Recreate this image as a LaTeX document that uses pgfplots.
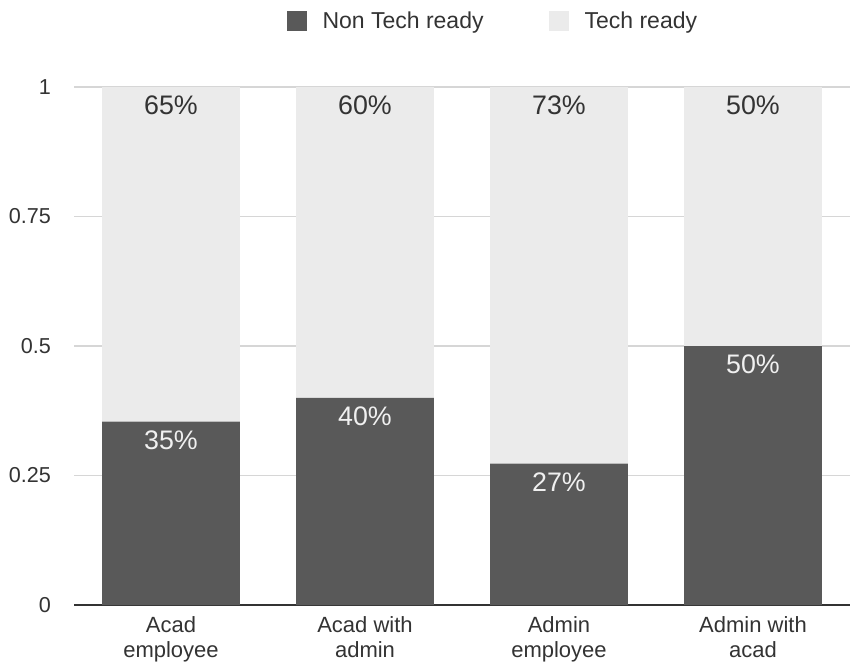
\documentclass[border=0pt]{standalone}
\usepackage{pgfplots}
\pgfplotsset{compat=1.18}
\usepackage{fontspec}
\setmainfont{Liberation Sans}
\usetikzlibrary{calc}
\definecolor{darkbar}{HTML}{595959}
\definecolor{lightbar}{HTML}{EBEBEB}
\definecolor{gridc}{HTML}{D6D6D6}
\definecolor{txt}{HTML}{333333}
\pgfplotsset{sqlegend/.style={legend image code/.code={\fill[##1] (0pt,-5pt) rectangle (10pt,5pt);}}}

\begin{document}
\begin{tikzpicture}
\begin{axis}[
  scale only axis, width=388pt, height=259pt,
  ybar stacked, bar width=0.71,
  xmin=-0.5, xmax=3.5, ymin=0, ymax=1,
  xtick={0,1,2,3},
  xticklabels={Acad\\employee, Acad with\\admin, Admin\\employee, Admin with\\acad},
  x tick label style={align=center, font=\fontsize{11}{12.5}\selectfont, text=txt, yshift=-2pt},
  ytick={0,0.25,0.5,0.75,1},
  yticklabel style={font=\fontsize{10.8}{13}\selectfont, text=txt, /pgf/number format/fixed, xshift=-8pt},
  /pgf/number format/assume math mode=true,
  major tick length=0pt,
  ymajorgrids, grid style={gridc, line width=0.6pt},
  axis line style={draw=none},
  point meta=explicit symbolic,
  visualization depends on=rawy \as \rawy,
  nodes near coords,
  every node near coord/.append style={anchor=north, yshift=\rawy*129.5pt-1pt, font=\fontsize{13.4}{15}\selectfont},
  legend columns=2,
  legend style={at={(0.541,1.127)}, anchor=center, draw=none, fill=none,
    text=txt, font=\fontsize{11.5}{13}\selectfont,
    /tikz/every odd column/.append style={column sep=6pt},
    /tikz/every even column/.append style={column sep=30.5pt}},
]
\addplot[fill=darkbar, draw=none, sqlegend,
  every node near coord/.append style={text=white!94!black}]
  coordinates {(0,0.354) [35\%] (1,0.400) [40\%] (2,0.273) [27\%] (3,0.500) [50\%]};
\addlegendentry{Non Tech ready}
\addplot[fill=lightbar, draw=none, sqlegend,
  every node near coord/.append style={text=txt}]
  coordinates {(0,0.646) [65\%] (1,0.600) [60\%] (2,0.727) [73\%] (3,0.500) [50\%]};
\addlegendentry{Tech ready}
\draw[txt, line width=1.2pt] (rel axis cs:0,0) -- (rel axis cs:1,0);
\coordinate (o) at (rel axis cs:0,0);
\end{axis}
\pgfresetboundingbox
\path ($(o)+(-37pt,-32.5pt)$) rectangle ($(o)+(390.5pt,302.5pt)$);
\end{tikzpicture}
\end{document}
